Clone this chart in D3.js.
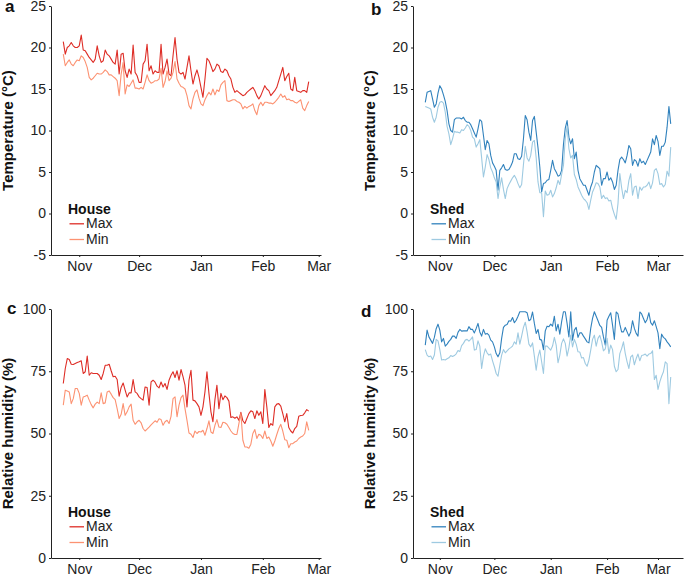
<!DOCTYPE html>
<html lang="en">
<head>
  <meta charset="utf-8">
  <title>House and shed temperature / humidity</title>
  <script src="https://d3js.org/d3.v7.min.js"></script>
  <style>
    html, body { margin:0; padding:0; background:#fff; }
    svg { display:block; font-family:"Liberation Sans", Arial, sans-serif; }
    .tick text { font-size:14px; fill:#222; }
    .domain, .tick line { stroke:#222; }
  </style>
</head>
<body>
  <div id="chart"></div>
  <script>
    // ─── Data (daily values) ──────────────────────────────────────────────────
    const houseStart = "2018-10-24";
    const shedStart  = "2018-10-24";

    const monthTicks  = ["2018-11-01", "2018-12-01", "2019-01-01", "2019-02-01", "2019-03-01"];
    const monthLabels = ["Nov", "Dec", "Jan", "Feb", "Mar"];

    const tempTicks = [-5, 0, 5, 10, 15, 20, 25];
    const rhTicks   = [0, 25, 50, 75, 100];

    const houseTempMax = [20.7,19.2,20.0,20.2,20.6,20.2,20.0,20.0,20.2,21.5,
      19.7,19.6,19.2,18.8,18.5,18.2,18.6,20.2,19.0,18.2,
      18.4,19.7,19.2,19.0,18.6,18.2,18.0,19.7,16.8,19.2,
      19.3,17.2,16.4,17.4,16.8,20.3,17.0,16.6,15.8,15.8,
      18.0,18.4,20.4,17.2,17.8,16.8,17.2,17.0,17.0,20.4,
      16.8,17.6,18.6,16.8,16.6,19.0,21.2,18.6,17.0,16.8,
      17.0,16.2,17.6,19.0,17.2,15.6,16.6,17.3,16.4,15.2,
      14.0,16.2,18.7,18.4,17.8,17.1,17.4,18.0,17.8,17.1,
      17.0,17.4,17.2,16.6,16.2,15.2,14.6,14.8,14.6,14.4,
      14.2,14.3,14.6,14.8,15.0,15.2,14.8,14.2,13.8,14.2,
      14.8,15.4,15.0,14.8,14.2,14.5,14.8,15.2,16.0,16.8,
      17.6,16.0,16.5,16.9,15.0,14.8,16.4,14.8,14.7,14.6,
      14.8,14.8,14.6,15.9];
    const houseTempMin = [19.2,17.8,18.2,18.5,18.0,17.8,18.2,18.5,18.4,19.0,
      18.8,18.3,17.6,16.4,16.1,16.3,16.6,16.9,16.8,16.8,
      17.0,17.3,17.1,16.7,16.7,16.5,16.3,16.0,14.2,16.8,
      18.2,14.4,15.5,15.3,15.7,16.1,15.1,15.1,15.0,15.2,
      15.0,15.8,16.7,16.0,15.7,15.8,16.0,16.0,16.2,17.5,
      15.2,15.9,17.2,16.0,16.3,17.0,18.3,16.2,15.7,15.3,
      15.2,15.0,14.2,13.0,12.6,13.8,14.6,14.9,13.9,13.2,
      13.0,13.7,14.2,14.6,14.3,15.0,14.3,14.9,14.7,15.5,
      15.8,16.0,13.6,13.5,13.6,13.7,13.7,13.5,13.4,13.2,
      12.6,12.9,12.7,12.9,13.0,13.2,12.4,11.9,13.0,13.4,
      13.0,13.4,13.4,13.3,13.3,13.2,13.4,13.7,14.0,14.4,
      14.0,14.2,13.7,13.8,13.6,13.6,13.4,13.3,13.5,13.7,
      12.7,12.4,13.0,13.5];

    const shedTempMax = [13.4,14.6,14.7,14.8,13.8,12.8,13.2,14.5,15.4,15.0,
      14.3,13.5,12.4,10.8,10.0,9.8,11.3,11.5,11.5,11.5,
      11.4,11.6,11.2,11.0,11.0,10.7,10.2,9.7,9.2,10.2,
      11.3,11.1,9.4,7.7,8.8,8.4,7.0,6.1,5.7,5.2,
      2.8,5.2,5.5,5.9,5.3,5.2,5.3,5.7,6.2,7.2,
      7.2,6.6,6.5,6.9,9.0,11.8,11.3,9.8,8.8,11.2,
      11.7,9.8,7.9,5.6,2.6,3.6,3.7,4.0,4.1,5.2,
      6.4,5.4,5.0,4.5,4.6,5.2,8.3,10.3,11.2,9.2,
      8.4,9.0,6.6,7.4,5.2,4.2,3.8,3.4,3.4,2.8,
      2.2,3.2,3.8,5.0,5.8,5.6,5.4,3.4,4.2,4.2,
      5.0,4.0,4.3,3.8,2.9,3.4,5.2,6.5,6.8,6.5,
      6.1,7.0,8.2,7.8,5.8,6.5,6.3,5.7,6.6,6.1,
      6.3,5.9,6.4,6.9,7.4,9.0,8.3,9.4,8.7,7.0,
      8.1,8.1,8.6,10.4,12.9,10.8];
    const shedTempMin = [12.9,12.8,12.7,12.6,11.6,11.0,11.6,12.8,13.4,13.5,
      13.3,12.2,10.5,9.6,8.3,9.0,9.9,9.8,9.8,9.7,
      10.1,10.0,10.3,10.7,10.5,10.0,9.2,9.0,8.0,8.4,
      8.9,6.7,4.4,5.6,7.1,6.5,5.5,5.0,4.3,3.8,
      1.8,3.2,4.3,2.9,1.8,3.0,3.5,3.9,4.3,4.6,
      4.2,3.6,3.1,3.5,5.9,8.1,6.7,6.3,7.0,8.6,
      8.8,6.7,3.8,2.5,2.5,-0.4,2.7,2.2,2.3,2.8,
      2.0,2.4,3.1,4.0,3.5,4.7,5.8,9.0,10.5,7.8,
      6.7,7.0,4.7,4.1,3.2,2.7,2.2,1.8,1.6,1.3,
      0.5,1.6,2.6,3.1,3.7,3.6,3.2,1.8,2.2,1.8,
      1.9,1.5,1.6,0.6,-0.1,-0.7,1.2,4.8,3.1,1.8,
      2.8,2.5,4.0,4.8,2.2,3.2,3.3,1.8,3.2,2.8,
      3.2,3.2,3.4,3.8,3.0,3.7,5.2,5.4,4.8,3.5,
      3.6,3.2,3.5,5.1,4.5,8.0];

    const houseRhMax = [70.1,76.1,80.1,79.7,77.8,77.7,78.1,78.5,78.8,79.2,
      74.1,74.8,81.1,73.4,74.4,74.1,74.1,74.1,73.4,71.7,
      74.1,77.4,77.4,77.8,75.2,72.8,73.0,71.7,65.0,68.5,
      70.3,67.4,64.7,66.3,66.3,71.7,66.7,66.1,64.7,64.0,
      63.4,68.7,68.5,61.4,70.7,71.4,70.6,69.0,68.3,70.7,
      68.7,70.1,67.7,71.4,73.4,74.8,72.5,75.2,71.4,75.7,
      72.8,69.4,60.7,71.4,75.4,63.4,63.1,62.0,60.7,57.3,
      60.7,66.7,74.8,66.1,58.7,54.7,63.6,69.4,60.0,66.1,
      63.6,65.1,64.4,63.0,56.4,56.7,56.1,56.7,55.3,58.5,
      55.1,54.0,56.0,58.0,59.1,58.7,56.0,59.1,57.3,58.7,
      54.0,67.7,60.7,52.4,54.0,53.3,60.7,61.8,62.0,61.0,
      58.0,54.7,58.0,52.4,51.0,50.2,52.0,52.9,56.9,57.2,
      57.3,58.3,59.6,59.0];
    const houseRhMin = [61.4,67.4,67.1,66.7,62.0,64.0,68.1,68.1,66.1,61.4,
      64.7,65.0,65.4,63.4,61.6,60.3,61.8,62.6,62.0,66.3,
      62.0,62.3,66.7,67.1,65.8,64.4,63.6,60.0,56.0,57.7,
      62.0,57.3,58.7,60.7,61.8,55.3,53.7,54.7,55.3,54.3,
      52.0,51.0,51.8,52.6,53.5,54.3,55.1,54.5,55.9,55.6,
      53.3,54.7,55.3,54.0,56.9,64.0,64.7,56.7,61.4,64.4,
      65.4,60.0,55.3,50.2,49.7,48.4,51.0,50.0,50.8,50.6,
      51.3,49.3,52.0,55.1,50.6,50.0,53.3,55.6,52.6,52.4,
      54.5,54.3,53.7,52.4,51.0,50.0,49.6,49.6,54.0,58.0,
      47.3,44.6,44.6,44.1,45.7,50.0,51.6,48.0,49.7,49.3,
      48.0,51.0,48.0,48.6,47.0,44.9,47.0,49.6,52.0,53.7,
      51.0,47.5,47.3,44.3,45.9,45.9,46.6,47.0,48.0,48.6,
      49.0,50.0,54.7,51.3];

    const shedRhMax = [85.5,91.5,88.8,87.5,86.2,88.6,92.1,93.9,91.5,86.8,
      88.2,85.1,85.9,87.0,87.8,89.1,89.1,88.2,90.6,91.8,
      91.1,91.2,91.2,91.2,92.9,91.8,91.8,90.4,92.2,94.2,
      90.8,89.1,91.8,89.9,90.2,89.5,87.5,86.8,84.8,82.1,
      80.8,82.4,88.2,92.6,93.5,93.8,95.3,95.1,96.6,94.5,
      95.5,97.1,98.9,98.9,98.9,98.9,98.5,95.3,95.8,98.8,
      94.2,90.2,91.8,87.8,87.5,83.7,91.2,93.1,92.9,93.9,
      93.1,97.1,91.2,93.9,89.9,94.9,98.9,98.9,94.2,88.8,
      98.9,87.5,91.5,92.6,88.6,90.4,90.4,89.1,88.0,86.8,
      86.4,92.2,96.2,98.9,97.1,95.3,93.4,92.6,88.8,85.5,
      95.5,97.1,98.5,93.5,87.8,98.8,98.0,93.9,90.8,90.8,
      92.6,90.8,89.1,90.8,95.3,92.2,90.2,89.1,98.8,98.0,
      96.2,94.5,95.8,98.5,94.5,93.5,95.3,92.9,90.4,84.1,
      89.9,88.6,88.0,86.8,85.9,84.8];
    const shedRhMin = [83.7,81.5,80.8,81.1,79.7,81.5,87.8,87.2,83.7,79.5,
      79.7,79.5,80.0,80.4,81.3,80.9,81.3,82.0,83.3,82.9,
      85.3,86.2,87.5,87.8,87.1,87.8,88.8,83.5,83.7,87.2,
      85.1,76.1,81.1,84.0,82.4,81.5,81.9,79.2,76.8,74.1,
      73.0,77.4,81.5,83.7,82.4,83.2,84.0,84.5,85.1,86.8,
      85.9,90.4,85.9,89.1,92.6,94.7,90.8,85.9,84.8,86.4,
      81.1,75.4,80.8,83.5,78.8,74.1,85.1,85.1,84.3,83.5,
      85.1,88.6,85.5,78.4,81.5,86.2,88.0,86.2,81.1,84.5,
      89.5,84.8,87.8,85.9,82.8,82.7,80.3,80.5,78.1,77.0,
      79.5,83.5,87.8,89.5,85.1,88.2,89.4,86.8,83.2,84.0,
      88.2,82.1,85.5,83.7,77.0,74.8,75.7,82.1,84.1,86.8,
      82.1,78.8,76.1,80.8,81.5,77.6,80.1,81.9,79.2,81.3,
      81.5,81.9,81.1,81.9,82.1,83.2,71.7,73.4,67.7,70.7,
      73.0,74.8,78.8,78.1,62.0,72.7];
    // ───────────────────────────────────────────────────────────────────────────

    const parse = d3.utcParse("%Y-%m-%d");
    const red  = { max: "#de2d26", min: "#fc9272" };
    const blue = { max: "#3182bd", min: "#9ecae1" };

    const panels = [
      { tag: "a", tagX: 5,   tagY: 12,  left: 51,  right: 321, top: 6,   bottom: 255, titleX: 13,
        title: "Temperature (°C)", ticks: tempTicks, domain: [-5, 25],
        start: houseStart, max: houseTempMax, min: houseTempMin, legend: "House", col: red },
      { tag: "b", tagX: 371, tagY: 15,  left: 413, right: 683, top: 6,   bottom: 255, titleX: 375,
        title: "Temperature (°C)", ticks: tempTicks, domain: [-5, 25],
        start: shedStart, max: shedTempMax, min: shedTempMin, legend: "Shed", col: blue },
      { tag: "c", tagX: 7,   tagY: 314, left: 51,  right: 321, top: 309, bottom: 558, titleX: 13,
        title: "Relative humidity (%)", ticks: rhTicks, domain: [0, 100],
        start: houseStart, max: houseRhMax, min: houseRhMin, legend: "House", col: red },
      { tag: "d", tagX: 361, tagY: 317, left: 413, right: 683, top: 309, bottom: 558, titleX: 375,
        title: "Relative humidity (%)", ticks: rhTicks, domain: [0, 100],
        start: shedStart, max: shedRhMax, min: shedRhMin, legend: "Shed", col: blue }
    ];

    const svg = d3.select("#chart").append("svg")
      .attr("width", 685).attr("height", 575);

    panels.forEach(p => {
      const t0 = parse(p.start);
      const dates = p.max.map((_, i) => d3.utcDay.offset(t0, i));
      const t1 = dates[dates.length - 1];
      const pad = (t1 - t0) * 0.05;   // ggplot-style 5% expansion

      const x = d3.scaleUtc()
        .domain([new Date(+t0 - pad), new Date(+t1 + pad)])
        .range([p.left, p.right]);
      const y = d3.scaleLinear().domain(p.domain).range([p.bottom, p.top]);

      const g = svg.append("g");

      // axes
      g.append("g")
        .attr("transform", `translate(0,${p.bottom})`)
        .call(d3.axisBottom(x)
          .tickValues(monthTicks.map(parse))
          .tickFormat((d, i) => monthLabels[i])
          .tickSize(2).tickSizeOuter(0).tickPadding(4.5));
      g.append("g")
        .attr("transform", `translate(${p.left},0)`)
        .call(d3.axisLeft(y)
          .tickValues(p.ticks)
          .tickFormat(d => String(d))      // plain hyphen for "-5"
          .tickSize(2).tickSizeOuter(0).tickPadding(3));

      // y title
      g.append("text")
        .attr("transform", `translate(${p.titleX},${(p.top + p.bottom) / 2}) rotate(-90)`)
        .attr("text-anchor", "middle")
        .style("font-size", "15px").style("font-weight", "bold").style("fill", "#111")
        .text(p.title);

      // panel tag
      g.append("text")
        .attr("x", p.tagX).attr("y", p.tagY)
        .style("font-size", "17px").style("font-weight", "bold").style("fill", "#111")
        .text(p.tag);

      // lines
      const line = d3.line().x((d, i) => x(dates[i])).y(d => y(d));
      [["max", p.max], ["min", p.min]].forEach(([k, vals]) => {
        g.append("path")
          .datum(vals)
          .attr("d", line)
          .attr("fill", "none")
          .attr("stroke", p.col[k])
          .attr("stroke-width", 1.1)
          .attr("stroke-linejoin", "round");
      });

      // legend
      const lx = p.left + 17;
      const lg = g.append("g");
      lg.append("text")
        .attr("x", lx).attr("y", p.bottom - 41)
        .style("font-size", "14px").style("font-weight", "bold").style("fill", "#111")
        .text(p.legend);
      [["max", "Max"], ["min", "Min"]].forEach(([k, label], i) => {
        const yy = p.bottom - 26.7 + i * 15.7;
        lg.append("line")
          .attr("x1", lx + 1.5).attr("x2", lx + 16)
          .attr("y1", yy - 4.5).attr("y2", yy - 4.5)
          .attr("stroke", p.col[k]).attr("stroke-width", 1.3);
        lg.append("text")
          .attr("x", lx + 18).attr("y", yy)
          .style("font-size", "14px").style("fill", "#222")
          .text(label);
      });
    });
  </script>
</body>
</html>
